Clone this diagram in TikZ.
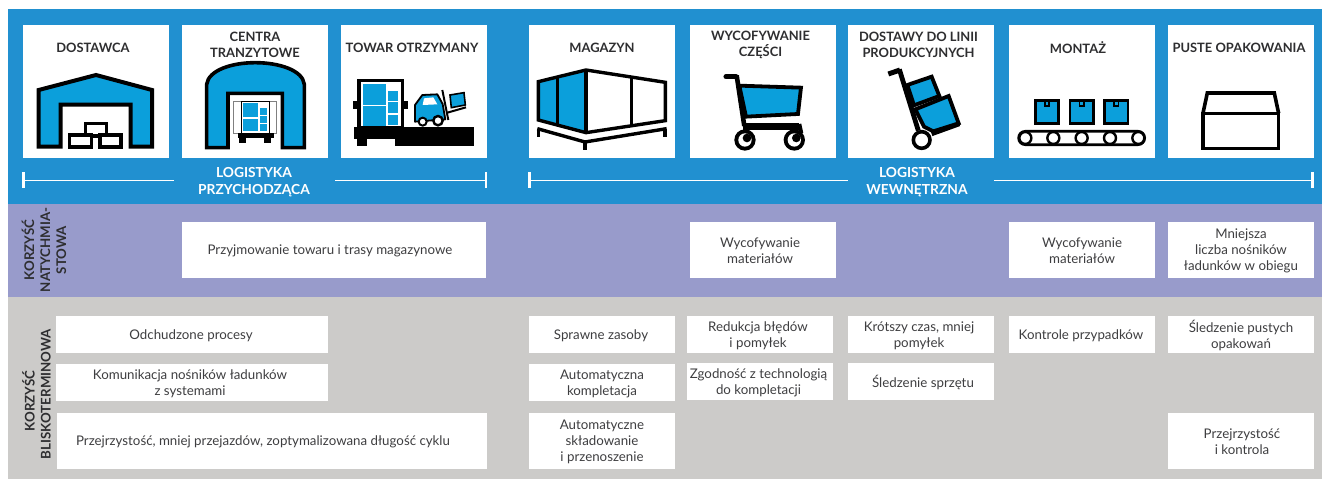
\documentclass[tikz,border=0pt]{standalone}
\usepackage{fontspec}
\setmainfont{Lato}
\definecolor{bandblue}{RGB}{33,144,208}
\definecolor{iconblue}{RGB}{11,159,219}
\definecolor{bandpurple}{RGB}{152,155,203}
\definecolor{bandgray}{RGB}{204,203,201}
\definecolor{bodyink}{RGB}{62,62,64}
\definecolor{titleink}{RGB}{46,46,48}
\tikzset{
  panel/.style={fill=white,draw=none,inner sep=0pt,outer sep=0pt},
  bodytext/.style={font=\fontsize{13.3}{16}\selectfont,text=bodyink,align=center,inner sep=0pt,yshift=-1pt},
  titletext/.style={font=\fontsize{12.9}{16}\selectfont\bfseries,text=titleink,align=center,inner sep=0pt,yshift=-0.7pt},
  bandtext/.style={font=\fontsize{13.8}{17}\selectfont\bfseries,text=white,align=center,inner sep=0pt,yshift=-0.7pt},
  sidetext/.style={font=\fontsize{13.3}{16}\selectfont\bfseries,text=titleink,align=center,inner sep=0pt,rotate=90},
  rulerline/.style={draw=white,line width=1.7pt},
  rulertick/.style={draw=white,line width=2.6pt},
  ico/.style={draw=black,line width=3.6pt,line join=miter,fill=iconblue},
  icow/.style={draw=black,line width=3.6pt,line join=miter,fill=white},
  icol/.style={draw=black,line width=3.4pt,line join=miter},
}
% box: [text offset], name, x0, y0, x1, y1, text
\newcommand{\tbox}[7][0]{%
  \path[panel] (#3,#4) rectangle (#5,#6);
  \node[bodytext] (#2) at ({(#3+#5)/2+#1},{(#4+#6)/2}) {#7};}
% title box: [text offset], name, x0, y, text
\newcommand{\ibox}[5][0]{%
  \path[panel] (#3,25) rectangle (#3+146,158);
  \node[titletext] (#2) at (#3+73+#1,#4) {#5};}
\begin{document}
\begin{tikzpicture}[x=1pt,y=-1pt]
\useasboundingbox (0,0) rectangle (1322,479);
\fill[white] (0,0) rectangle (1322,479);
\fill[bandblue] (8,9) rectangle (1322,204);
\fill[bandpurple] (8,204) rectangle (1322,297);
\fill[bandgray] (8,297) rectangle (1322,479);

% top boxes
\ibox[-3]{dostawca}{23}{47}{DOSTAWCA}
\ibox{centra}{182}{44}{CENTRA\\TRANZYTOWE}
\ibox[-2]{towar}{341}{47}{TOWAR OTRZYMANY}
\ibox{magazyn}{529}{47}{MAGAZYN}
\ibox[-2.5]{wycof}{690}{44}{WYCOFYWANIE\\CZĘŚCI}
\ibox[-2.5]{dostawy}{848}{44}{DOSTAWY DO LINII\\PRODUKCYJNYCH}
\ibox[-4]{montaz}{1009}{47}{MONTAŻ}
\ibox[-2]{puste}{1168}{47}{PUSTE OPAKOWANIA}

% rulers
\node[bandtext] (inbound) at (254,181.5) {LOGISTYKA\\PRZYCHODZĄCA};
\node[bandtext] (internal) at (917,181.5) {LOGISTYKA\\WEWNĘTRZNA};
\coordinate (a1) at (23.5,180.5); \coordinate (a2) at (174,180.5);
\coordinate (a3) at (335,180.5);  \coordinate (a4) at (486,180.5);
\coordinate (b1) at (529.5,180.5);\coordinate (b2) at (848,180.5);
\coordinate (b3) at (994,180.5);  \coordinate (b4) at (1312.5,180.5);
\draw[rulerline] (a1) -- (a2);
\draw[rulerline] (a3) -- (a4);
\draw[rulerline] (b1) -- (b2);
\draw[rulerline] (b3) -- (b4);
\draw[rulertick] (23.5,172) -- (23.5,188);
\draw[rulertick] (486,172) -- (486,188);
\draw[rulertick] (529.5,172) -- (529.5,188);
\draw[rulertick] (1312.5,172) -- (1312.5,188);

% side labels
\node[sidetext] (side1) at (44,250) {KORZYŚĆ\\NATYCHMIA-\\STOWA};
\node[sidetext] (side2) at (36.5,394) {KORZYŚĆ\hspace*{14pt}\\BLISKOTERMINOWA};

% purple row
\tbox[-4]{p1}{182}{222}{486}{278}{Przyjmowanie towaru i trasy magazynowe}
\tbox[-3]{p2}{690}{222}{836}{278}{Wycofywanie\\materiałów}
\tbox{p3}{1009}{222}{1155}{278}{Wycofywanie\\materiałów}
\tbox{p4}{1168}{222}{1314}{278}{Mniejsza\\liczba nośników\\ładunków w obiegu}

% gray rows
\tbox[-1]{g1}{56}{316}{328}{353}{Odchudzone procesy}
\tbox[-2]{g2}{56}{364}{328}{401}{Komunikacja nośników ładunków\\z systemami}
\tbox[-9]{g3}{57}{413}{487}{469}{Przejrzystość, mniej przejazdów, zoptymalizowana długość cyklu}
\tbox[-1]{g4}{529}{316}{675}{353}{Sprawne zasoby}
\tbox{g5}{529}{364}{675}{401}{Automatyczna\\kompletacja}
\tbox{g6}{529}{413}{675}{469}{Automatyczne\\składowanie\\i przenoszenie}
\tbox[-2]{g7}{687}{316}{833}{353}{Redukcja błędów\\i pomyłek}
\tbox[-1.5]{g8}{687}{363}{833}{400}{Zgodność z technologią\\do kompletacji}
\tbox[-2]{g9}{848}{316}{994}{353}{Krótszy czas, mniej\\pomyłek}
\tbox[2]{g10}{848}{363}{994}{400}{Śledzenie sprzętu}
\tbox[-1]{g11}{1009}{316}{1155}{353}{Kontrole przypadków}
\tbox{g12}{1168}{316}{1314}{353}{Śledzenie pustych\\opakowań}
\tbox[1]{g13}{1168}{413}{1314}{469}{Przejrzystość\\i kontrola}

% icon: warehouse
\draw[ico,line width=4pt] (38.7,90) -- (96,75) -- (152,90) -- (152,146.5) -- (130.5,146.5) -- (130.5,104.5) -- (60.5,104.5) -- (60.5,146.5) -- (38.7,146.5) -- cycle;
\draw[icow] (85.5,123.5) rectangle (106.5,136);
\draw[icow] (69.5,134.8) rectangle (91.5,146.8);
\draw[icow] (100,134.8) rectangle (121,146.8);

% icon: arch with truck
\begin{scope}[shift={(182,60)},scale=0.3333]
\draw[ico] (74,263) -- (74,73) .. controls (80,30) and (150,8) .. (220,8) .. controls (290,8) and (362,30) .. (367,73) -- (367,263) -- (301,263) -- (301,100) -- (138,100) -- (138,263) -- cycle;
\draw[draw=gray,fill=white,line width=1pt] (155,124) rectangle (178,220);
\draw[draw=gray,fill=white,line width=1pt] (262,124) rectangle (284,220);
\draw[draw=black,fill=white,line width=1.2pt] (178,124) rectangle (262,222);
\fill[iconblue] (184,128) rectangle (228,170);
\fill[iconblue] (184,176) rectangle (228,214);
\fill[iconblue] (234,144) rectangle (255,165);
\fill[iconblue] (234,169) rectangle (255,188);
\fill[iconblue] (234,192) rectangle (255,213);
\fill[black] (168,220) rectangle (275,235);
\fill[black] (170,235) rectangle (192,250);
\fill[black] (246,235) rectangle (268,250);
\end{scope}

% icon: truck and forklift
\begin{scope}[shift={(340,70)},scale=0.3333]
\draw[draw=black,fill=white,line width=3.4pt] (57,32) rectangle (187,172);
\fill[iconblue] (69,42) rectangle (138,105);
\fill[iconblue] (69,108) rectangle (138,168);
\fill[iconblue] (144,63) rectangle (174,92);
\fill[iconblue] (144,97) rectangle (174,128);
\fill[iconblue] (144,134) rectangle (174,165);
\fill[black] (40,92) rectangle (52,118);
\fill[black] (192,92) rectangle (204,118);
\fill[black] (42,172) rectangle (402,207);
\fill[black] (52,207) rectangle (80,227);
\fill[black] (165,207) rectangle (402,227);
\draw[draw=black,line width=1.8pt,fill=iconblue,line join=round] (225,105) -- (247,75) -- (292,73) -- (308,102) -- (316,148) -- (225,155) -- cycle;
\draw[draw=none,fill=white] (252,85) -- (280,82) -- (292,103) -- (248,105) -- cycle;
\draw[draw=black,line width=2pt,fill=white] (248,155) circle (12);
\draw[draw=black,line width=2.4pt,fill=white] (294,152) circle (14);
\draw[black,line width=2pt] (307,60) -- (325,150);
\draw[black,line width=2pt] (322,128) -- (378,112);
\draw[draw=black,line width=1.6pt,fill=iconblue] (330,75) -- (372,68) -- (376,105) -- (334,113) -- cycle;
\end{scope}

% icon: storage
\begin{scope}[shift={(510,0)},scale=0.3333]
\fill[white] (85,245) -- (228,210) -- (466,247) -- (466,362) -- (228,398) -- (85,360) -- cycle;
\fill[iconblue] (85,245) -- (228,210) -- (228,398) -- (85,360) -- cycle;
\draw[icol] (85,245) -- (228,210) -- (466,247) -- (466,362) -- (228,398) -- (85,360) -- cycle;
\draw[icol] (228,210) -- (228,398);
\draw[icol] (142,232) -- (142,375);
\draw[icol] (364,232) -- (364,376);
\draw[icol] (82,386) -- (225,426) -- (470,386);
\draw[icol,line width=3.6pt] (86,386) -- (86,412);
\draw[icol,line width=3.6pt] (225,426) -- (225,450);
\draw[icol,line width=3.6pt] (465,386) -- (465,412);
\end{scope}

% icon: cart
\begin{scope}[shift={(510,0)},scale=0.3333]
\draw[icol,line width=5pt,line cap=round] (648,230) -- (678,230);
\draw[icol,line width=4.6pt] (680,226) -- (703,378);
\draw[icol,line width=6.5pt] (700,380) -- (868,380);
\draw[icol,line width=4pt] (868,372) -- (874,400);
\draw[draw=black,line width=3.8pt,fill=iconblue,line join=miter] (688,257) -- (873,263) -- (864,342) -- (708,350) -- cycle;
\fill[black] (705,420) circle (32);
\fill[white] (705,420) circle (20);
\fill[black] (711,414) circle (13);
\fill[black] (853,420) circle (32);
\fill[white] (853,420) circle (20);
\fill[black] (859,414) circle (13);
\end{scope}

% icon: hand truck
\begin{scope}[shift={(850,60)},scale=0.3333]
\draw[icol,line width=5pt] (115,42) -- (150,30);
\draw[draw=black,line width=3.8pt,fill=iconblue] (172,75) -- (245,50) -- (268,108) -- (192,136) -- cycle;
\draw[draw=black,line width=3.8pt,fill=iconblue] (196,148) -- (296,108) -- (326,190) -- (250,214) -- (222,200) -- cycle;
\draw[icol,line width=4.8pt] (148,28) -- (205,212);
\draw[icol,line width=4.4pt] (245,222) -- (328,192);
\draw[draw=black,line width=3.6pt,fill=white] (215,240) circle (25);
\end{scope}

% icon: conveyor
\begin{scope}[shift={(920,0)},scale=0.3333]
\foreach \bx in {342,446,550} {
  \draw[draw=black,line width=2.6pt,fill=iconblue] (\bx+4,301) rectangle (\bx+74,371);
  \fill[black] (\bx+30,297) rectangle (\bx+48,322);
  \fill[iconblue] (\bx+35,305) rectangle (\bx+43,316);
}
\draw[draw=black,line width=2.7pt,fill=white,rounded corners=6.6pt] (296,394) rectangle (674,434);
\foreach \wx in {316,400,485,570,655}
  \draw[draw=black,line width=2.4pt,fill=white] (\wx,414) circle (18);
\end{scope}

% icon: empty box
\begin{scope}[shift={(920,0)},scale=0.3333]
\draw[icol,line width=3.6pt] (849,340) -- (862,279) -- (1063,279) -- (1076,340);
\draw[icol,line width=3.6pt] (849,340) rectangle (1076,446);
\end{scope}
\end{tikzpicture}
\end{document}
